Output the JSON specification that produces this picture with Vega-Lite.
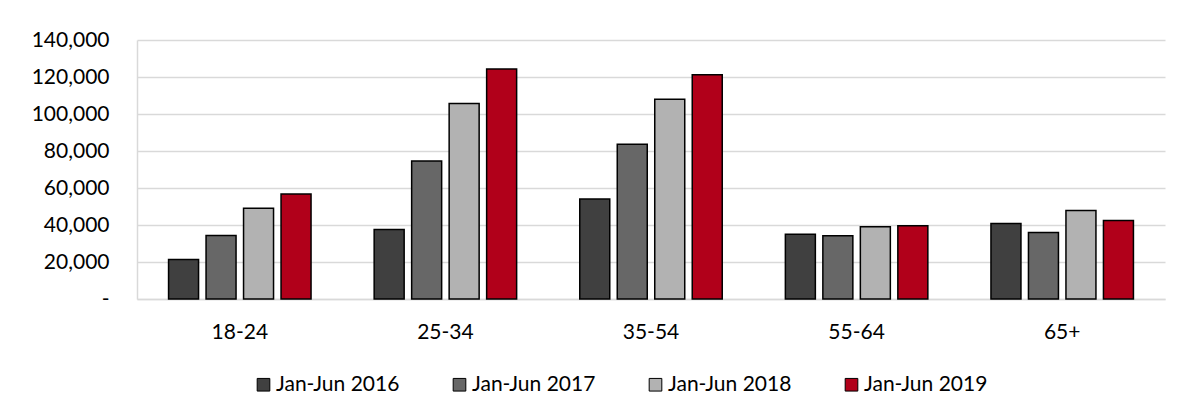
{
  "$schema": "https://vega.github.io/schema/vega-lite/v6.json",
  "width": 1028,
  "height": 259,
  "autosize": {"type": "none"},
  "padding": {"left": 137, "top": 40, "right": 20, "bottom": 118},
  "background": "#ffffff",
  "data": {
    "values": [
      {"age": "18-24", "period": "Jan-Jun 2016", "count": 21300},
      {"age": "18-24", "period": "Jan-Jun 2017", "count": 34300},
      {"age": "18-24", "period": "Jan-Jun 2018", "count": 49000},
      {"age": "18-24", "period": "Jan-Jun 2019", "count": 56700},
      {"age": "25-34", "period": "Jan-Jun 2016", "count": 37600},
      {"age": "25-34", "period": "Jan-Jun 2017", "count": 74600},
      {"age": "25-34", "period": "Jan-Jun 2018", "count": 105700},
      {"age": "25-34", "period": "Jan-Jun 2019", "count": 124300},
      {"age": "35-54", "period": "Jan-Jun 2016", "count": 54000},
      {"age": "35-54", "period": "Jan-Jun 2017", "count": 83600},
      {"age": "35-54", "period": "Jan-Jun 2018", "count": 108000},
      {"age": "35-54", "period": "Jan-Jun 2019", "count": 121200},
      {"age": "55-64", "period": "Jan-Jun 2016", "count": 35000},
      {"age": "55-64", "period": "Jan-Jun 2017", "count": 34200},
      {"age": "55-64", "period": "Jan-Jun 2018", "count": 39000},
      {"age": "55-64", "period": "Jan-Jun 2019", "count": 39600},
      {"age": "65+", "period": "Jan-Jun 2016", "count": 40800},
      {"age": "65+", "period": "Jan-Jun 2017", "count": 36000},
      {"age": "65+", "period": "Jan-Jun 2018", "count": 47900},
      {"age": "65+", "period": "Jan-Jun 2019", "count": 42400}
    ]
  },
  "mark": {"type": "bar", "stroke": "#000000", "strokeWidth": 1.5},
  "encoding": {
    "x": {
      "field": "age",
      "type": "nominal",
      "sort": ["18-24", "25-34", "35-54", "55-64", "65+"],
      "scale": {"paddingInner": 0.307, "paddingOuter": 0.1535},
      "axis": {
        "title": null,
        "labelAngle": 0,
        "ticks": false,
        "labelPadding": 22,
        "domainColor": "#d9d9d9",
        "domainWidth": 1.5
      }
    },
    "xOffset": {
      "field": "period",
      "type": "nominal",
      "scale": {"paddingInner": 0.2, "paddingOuter": 0}
    },
    "y": {
      "field": "count",
      "type": "quantitative",
      "scale": {"domain": [0, 140000], "nice": false},
      "axis": {
        "title": null,
        "values": [0, 20000, 40000, 60000, 80000, 100000, 120000, 140000],
        "labelExpr": "datum.value == 0 ? '-\u00a0\u00a0\u00a0' : format(datum.value, ',')",
        "ticks": false,
        "labelPadding": 28,
        "domain": true,
        "domainColor": "#d9d9d9",
        "domainWidth": 1.5,
        "grid": true,
        "gridColor": "#d9d9d9",
        "gridWidth": 1.5
      }
    },
    "color": {
      "field": "period",
      "type": "nominal",
      "scale": {
        "domain": ["Jan-Jun 2016", "Jan-Jun 2017", "Jan-Jun 2018", "Jan-Jun 2019"],
        "range": ["#404040", "#676767", "#b2b2b2", "#b1001a"]
      },
      "legend": {
        "title": null,
        "orient": "none",
        "direction": "horizontal",
        "legendX": 116,
        "legendY": 334,
        "symbolType": "square",
        "symbolSize": 160,
        "symbolStrokeColor": "#000000",
        "symbolStrokeWidth": 1,
        "symbolOpacity": 1,
        "labelOffset": 2,
        "columnPadding": 49,
        "labelFontSize": 21,
        "labelFont": "Lato",
        "labelColor": "#000000",
        "labelLimit": 300
      }
    }
  },
  "config": {
    "view": {"stroke": null},
    "axis": {
      "labelFont": "Lato",
      "labelFontSize": 21,
      "labelColor": "#000000"
    }
  }
}
